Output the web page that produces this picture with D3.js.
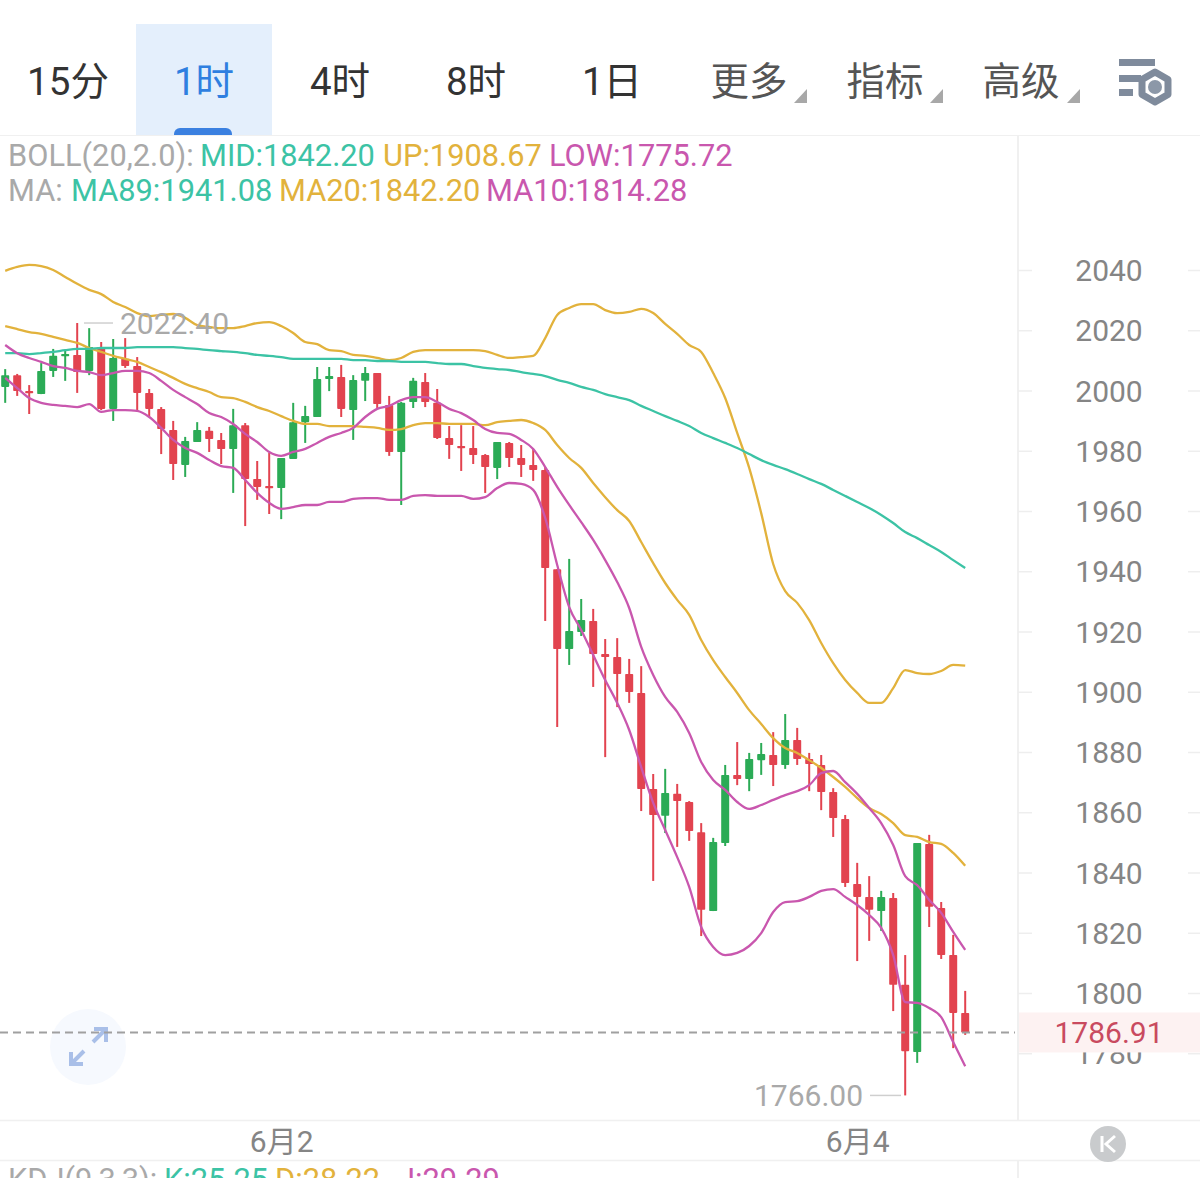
<!DOCTYPE html>
<html lang="zh">
<head>
<meta charset="utf-8">
<title>K线图</title>
<script src="https://cdn.jsdelivr.net/npm/d3@7/dist/d3.min.js"></script>
<style>
html,body{margin:0;padding:0;background:#fff;overflow:hidden;width:1200px;height:1178px}
svg{display:block}
text{font-family:Roboto,"Noto Sans CJK SC","Noto Sans",sans-serif}
</style>
</head>
<body>
<div id="chart"></div>
<script>
// Hourly candles, one entry per bar
const opens = [2001.2,2005.1,1999.8,1998.8,2006.5,2011.5,2011.8,2006.5,2014.4,1993.9,2010.5,2008.1,1999.2,1993.9,1986.9,1975.3,1982.9,1986.6,1983.6,1980.6,1988.5,1970.6,1968.3,1967.6,1977.3,1989.5,1991.2,2003.8,2004.5,1993.5,2003.2,2005.8,1995.2,1979.6,1996.2,2002.8,1995.9,1984.2,1981.6,1980.9,1978.6,1974.3,1982.6,1977.6,1975.3,1973.6,1940.7,1914.2,1919.8,1923.5,1912.5,1911.5,1905.9,1899.6,1867.7,1858.8,1866.1,1863.4,1853.4,1827.2,1849.8,1872.4,1871.0,1877.3,1879.0,1875.7,1884.0,1877.7,1875.7,1866.7,1857.8,1836.2,1831.9,1827.2,1831.5,1802.7,1780.4,1849.5,1828.2,1812.6,1793.4];
const closes = [2005.1,1999.8,1999.2,2006.5,2011.5,2012.1,2006.1,2014.4,1993.9,2010.8,2008.1,1999.2,1993.9,1987.2,1975.6,1983.2,1986.9,1983.9,1980.6,1988.5,1970.6,1968.0,1967.6,1977.6,1989.5,1991.5,2003.8,2004.8,1993.9,2003.5,2005.8,1995.5,1979.6,1995.9,2003.2,1996.2,1984.2,1981.9,1981.2,1978.6,1974.6,1982.9,1977.6,1975.3,1973.6,1941.1,1914.2,1920.2,1923.8,1912.5,1911.5,1905.9,1899.9,1867.7,1859.1,1866.4,1863.7,1853.8,1827.6,1850.1,1872.4,1871.0,1877.7,1879.3,1875.7,1884.0,1877.7,1876.0,1866.7,1858.1,1836.5,1831.9,1827.6,1831.9,1802.7,1780.7,1849.8,1828.6,1812.6,1793.4,1786.91];
const highs = [2007.1,2005.5,2001.8,2009.1,2013.8,2013.4,2022.4,2020.7,2016.1,2017.1,2017.4,2011.1,2000.5,1994.5,1989.9,1984.6,1989.5,1987.9,1985.9,1993.9,1989.2,1976.6,1979.3,1977.6,1995.9,1994.9,2007.8,2007.8,2008.5,2005.1,2007.8,2005.8,1998.2,1996.2,2004.2,2005.8,2000.5,1988.2,1988.5,1988.2,1978.9,1982.9,1982.9,1981.9,1980.6,1974.6,1940.7,1944.1,1930.8,1927.5,1917.5,1917.8,1910.9,1908.5,1872.7,1874.4,1869.4,1863.7,1856.4,1851.5,1875.7,1883.3,1879.7,1883.0,1886.6,1892.6,1888.0,1879.7,1879.0,1868.0,1859.1,1843.2,1838.8,1833.9,1833.2,1812.6,1849.8,1852.5,1830.2,1819.3,1800.7];
const lows = [1995.9,1998.2,1992.2,1998.8,2004.5,2003.2,1999.2,2005.1,1993.5,1989.9,2007.5,1992.9,1991.2,1978.9,1970.3,1971.3,1982.9,1979.6,1975.6,1966.0,1955.0,1963.7,1959.0,1957.3,1977.3,1982.6,1991.2,1999.8,1991.2,1983.6,1996.5,1994.2,1978.3,1962.0,1994.2,1994.5,1983.9,1977.3,1973.3,1975.6,1966.0,1970.6,1974.6,1971.3,1970.0,1923.5,1888.3,1908.9,1918.5,1901.6,1878.3,1894.9,1896.3,1860.4,1837.2,1853.1,1848.5,1850.5,1818.9,1827.2,1848.8,1869.0,1867.0,1872.4,1868.7,1874.4,1875.7,1867.0,1860.7,1851.8,1835.2,1810.6,1817.3,1820.6,1794.0,1766.0,1776.8,1821.9,1811.3,1781.7,1786.1];

// Indicator series
const bollUp = [2039.7,2041.0,2041.7,2041.3,2040.0,2037.7,2035.4,2033.4,2032.0,2029.4,2027.7,2025.7,2024.7,2025.1,2025.4,2024.1,2021.7,2021.1,2020.7,2020.7,2021.4,2022.4,2022.7,2021.4,2019.1,2016.1,2015.4,2013.4,2013.1,2011.8,2011.5,2010.8,2010.1,2010.8,2012.8,2013.4,2013.4,2013.4,2013.4,2013.4,2013.1,2011.8,2010.8,2011.1,2011.5,2017.4,2025.1,2027.4,2028.7,2028.7,2026.7,2025.7,2026.1,2027.1,2025.7,2022.1,2018.8,2015.1,2012.8,2005.8,1997.5,1985.9,1974.3,1959.3,1942.4,1933.4,1929.5,1923.8,1916.2,1909.5,1903.9,1899.6,1896.3,1896.3,1901.2,1907.2,1906.2,1905.9,1906.9,1908.9,1908.67];
const ma89 = [2012.4,2012.4,2012.1,2012.4,2012.8,2013.4,2013.8,2013.8,2014.1,2014.1,2014.1,2014.4,2014.4,2014.4,2014.4,2014.1,2013.8,2013.4,2013.1,2012.8,2012.4,2011.8,2011.5,2011.1,2010.5,2010.5,2010.5,2010.5,2010.5,2010.1,2010.1,2009.8,2009.8,2009.5,2009.5,2009.5,2009.1,2008.8,2008.8,2008.1,2007.5,2007.1,2006.8,2006.1,2005.5,2004.8,2003.5,2002.5,2001.2,2000.2,1998.8,1997.8,1996.8,1994.9,1993.2,1991.5,1989.9,1988.2,1985.9,1984.2,1982.6,1980.9,1978.9,1976.9,1975.3,1973.9,1972.3,1970.6,1969.0,1967.0,1965.0,1963.0,1961.0,1958.7,1956.0,1953.0,1951.0,1948.7,1946.4,1943.7,1941.08];
const ma20 = [2021.4,2020.4,2019.4,2018.8,2017.8,2016.8,2015.8,2014.1,2012.8,2011.5,2010.5,2009.5,2007.8,2006.1,2004.2,2002.2,2000.8,1999.5,1997.8,1997.5,1996.2,1994.5,1993.2,1991.5,1989.9,1988.9,1988.9,1988.2,1988.2,1988.2,1987.9,1987.6,1986.9,1987.2,1988.5,1989.2,1989.2,1988.9,1988.9,1988.9,1988.5,1989.5,1989.9,1990.2,1989.2,1986.9,1981.9,1977.6,1974.3,1969.3,1964.6,1960.3,1956.7,1949.7,1942.7,1936.1,1930.5,1925.5,1917.2,1910.5,1904.9,1899.6,1893.9,1889.3,1884.6,1881.3,1879.7,1877.3,1874.7,1871.7,1868.4,1864.7,1861.4,1859.4,1856.4,1852.4,1851.8,1850.1,1849.5,1846.5,1842.2];
const ma10 = [2015.1,2012.4,2010.8,2009.5,2008.1,2007.5,2006.5,2006.1,2005.1,2005.8,2006.5,2006.5,2005.8,2003.2,2000.2,1997.8,1995.5,1992.5,1991.2,1988.9,1985.6,1982.9,1979.6,1978.3,1979.6,1980.6,1982.6,1984.6,1985.9,1987.6,1991.2,1993.9,1994.9,1996.8,1997.8,1997.8,1996.2,1993.9,1992.5,1990.2,1987.2,1985.9,1985.6,1983.6,1980.6,1974.6,1968.0,1962.0,1956.3,1950.4,1943.7,1936.4,1927.8,1914.9,1905.6,1898.3,1893.3,1886.3,1876.7,1870.7,1867.4,1863.4,1861.1,1862.4,1864.1,1865.7,1867.0,1869.0,1873.0,1873.7,1870.0,1866.1,1861.4,1856.4,1849.1,1838.8,1835.8,1830.9,1826.6,1820.3,1814.28];
const bollLow = [2004.2,2000.8,1997.5,1995.9,1995.2,1994.9,1994.5,1995.5,1992.9,1993.5,1993.5,1993.2,1991.2,1987.6,1983.6,1980.9,1979.3,1976.9,1974.9,1974.3,1970.3,1966.0,1962.7,1960.7,1961.3,1962.0,1962.0,1963.0,1963.0,1964.0,1964.3,1964.3,1963.7,1963.7,1965.0,1965.3,1965.0,1965.0,1965.0,1964.0,1964.6,1967.6,1969.3,1969.0,1967.0,1957.7,1942.1,1928.1,1920.5,1912.2,1903.9,1896.3,1887.3,1875.0,1863.1,1854.1,1845.1,1835.2,1821.9,1815.3,1812.6,1813.3,1815.6,1819.9,1826.9,1830.2,1830.5,1831.9,1833.9,1834.5,1831.9,1829.2,1825.9,1821.6,1812.6,1797.0,1796.7,1795.0,1792.0,1783.7,1775.72];

// Axis labels and header text
const priceTicks = [2040,2020,2000,1980,1960,1940,1920,1900,1880,1860,1840,1820,1800,1780];
const dateTickBars = [23, 71];
const dateTickNames = ["6月2", "6月4"];
const lastPrice = 1786.91;
const peakPrice = 2022.40;
const troughPrice = 1766.00;
const tabNames = ["15分","1时","4时","8时","1日"];
const menuNames = ["更多","指标","高级"];

const width = 1200, height = 1178;
const svg = d3.select("#chart").append("svg").attr("width", width).attr("height", height);

const x = d3.scaleLinear().domain([0, opens.length - 1]).range([5.2, 965.2]);
const y = d3.scaleLinear().domain([2040, 1780]).range([270, 1053.25]);

const RED = "#e2434f", GREEN = "#2bab56", GOLD = "#e2b23c", TEAL = "#3cc3a5", PINK = "#c957ae", GRAY = "#a9a9a9";
const RULE = "#f0f0f0";

// Period tabs
svg.append("rect").attr("x",136).attr("y",24).attr("width",136).attr("height",111).attr("fill","#e4effc");
svg.append("rect").attr("x",174).attr("y",128).attr("width",58).attr("height",14).attr("rx",6).attr("fill","#3b80e0");
svg.append("rect").attr("x",0).attr("y",136).attr("width",width).attr("height",10).attr("fill","#fff");
svg.selectAll("text.tab").data(tabNames).join("text").attr("class","tab")
  .attr("x",(d,i)=>[68,204,340,476,612][i]).attr("y",94.5)
  .attr("text-anchor","middle").attr("font-size",38.5)
  .attr("fill",(d,i)=>i===1?"#2f7fe0":"#333").text(d=>d);
svg.selectAll("text.menu").data(menuNames).join("text").attr("class","menu")
  .attr("x",(d,i)=>[749,885,1021][i]).attr("y",94.5)
  .attr("text-anchor","middle").attr("font-size",38.5).attr("fill","#555").text(d=>d);
[807,943,1080].forEach(r=>{
  svg.append("path").attr("d",`M${r} 89V103H${r-13}Z`).attr("fill","#a8a8a8");
});

// Settings glyph
const gear = svg.append("g").attr("fill","#7f8b9c");
gear.append("rect").attr("x",1119).attr("y",59).attr("width",36).attr("height",7);
gear.append("rect").attr("x",1119).attr("y",75).attr("width",22).attr("height",7);
gear.append("rect").attr("x",1119).attr("y",89).attr("width",14).attr("height",7);
const hexPoints = d3.range(6).map(k=>{
  const a = Math.PI/3*k - Math.PI/2;
  return [1155+15*Math.cos(a), 87+15*Math.sin(a)];
});
gear.append("path").attr("d",d3.line()(hexPoints)+"Z").attr("fill","none").attr("stroke","#7f8b9c").attr("stroke-width",7).attr("stroke-linejoin","round");
gear.append("circle").attr("cx",1155).attr("cy",87).attr("r",7).attr("fill","#8c98a8");

// Panel rules
svg.append("line").attr("x1",0).attr("x2",width).attr("y1",135.5).attr("y2",135.5).attr("stroke",RULE);
svg.append("line").attr("x1",1018).attr("x2",1018).attr("y1",136).attr("y2",1120).attr("stroke",RULE).attr("stroke-width",2);
svg.append("line").attr("x1",1018).attr("x2",1018).attr("y1",1160).attr("y2",height).attr("stroke",RULE).attr("stroke-width",2);
svg.append("line").attr("x1",0).attr("x2",width).attr("y1",1120.5).attr("y2",1120.5).attr("stroke",RULE).attr("stroke-width",1.5);
svg.append("line").attr("x1",0).attr("x2",width).attr("y1",1160.5).attr("y2",1160.5).attr("stroke",RULE).attr("stroke-width",1.5);

// Price axis, with the grid stubs either side of the labels
const priceAxis = svg.append("g").attr("transform","translate(1109,0)")
  .call(d3.axisRight(y).tickValues(priceTicks).tickSize(0).tickPadding(0).tickFormat(d3.format("d")));
priceAxis.select(".domain").remove();
priceAxis.selectAll("text").attr("text-anchor","middle").attr("font-size",30).attr("font-family","Roboto").attr("fill","#858585").attr("dy","0.35em");
priceAxis.selectAll(".tick").each(function(d){
  const t = d3.select(this);
  t.append("line").attr("x1",-91).attr("x2",-77).attr("stroke","#eee").attr("stroke-width",1.5);
  t.append("line").attr("x1",79).attr("x2",91).attr("stroke","#eee").attr("stroke-width",1.5);
});

// Date axis
const dateAxis = svg.append("g").attr("transform","translate(0,1141)")
  .call(d3.axisBottom(x).tickValues(dateTickBars).tickSize(0).tickPadding(0).tickFormat((d,i)=>dateTickNames[i]));
dateAxis.select(".domain").remove();
dateAxis.selectAll("text").attr("font-size",30).attr("font-family","Roboto,'Noto Sans CJK SC'").attr("fill","#858585").attr("dy","0.35em").attr("y",0);

// Current price band, covers the tick label underneath
svg.append("rect").attr("x",1019).attr("y",y(lastPrice)-20).attr("width",181).attr("height",40).attr("fill","#fdf2f2");

// Candles
const bars = svg.append("g").selectAll("g").data(opens.map((o,i)=>i)).join("g");
const barColor = i => opens[i] > closes[i] ? RED : GREEN;
bars.append("line").attr("x1",i=>x(i)).attr("x2",i=>x(i))
  .attr("y1",i=>y(highs[i])).attr("y2",i=>y(lows[i]))
  .attr("stroke",barColor).attr("stroke-width",2);
bars.append("rect").attr("x",i=>x(i)-4).attr("width",8).attr("rx",0.8)
  .attr("y",i=>y(Math.max(opens[i],closes[i])))
  .attr("height",i=>Math.max(2.2,Math.abs(y(opens[i])-y(closes[i]))))
  .attr("fill",barColor);

// Indicator lines
const path = d3.line().x((d,i)=>x(i)).y(d=>y(d)).curve(d3.curveMonotoneX);
[[bollUp,GOLD],[ma20,GOLD],[ma89,TEAL],[ma10,PINK],[bollLow,PINK]].forEach(([series,color])=>{
  svg.append("path").attr("d",path(series)).attr("fill","none").attr("stroke",color)
    .attr("stroke-width",2.3).attr("stroke-linejoin","round");
});

// Extreme price markers
svg.append("line").attr("x1",84).attr("x2",113).attr("y1",y(peakPrice)).attr("y2",y(peakPrice)).attr("stroke","#cfcfcf").attr("stroke-width",1.5);
svg.append("text").attr("x",120).attr("y",y(peakPrice)+11).attr("font-size",30).attr("fill",GRAY).text(peakPrice.toFixed(2));
svg.append("line").attr("x1",870).attr("x2",901).attr("y1",y(troughPrice)).attr("y2",y(troughPrice)).attr("stroke","#cfcfcf").attr("stroke-width",1.5);
svg.append("text").attr("x",754).attr("y",y(troughPrice)+11).attr("font-size",30).attr("fill",GRAY).text(troughPrice.toFixed(2));

// Expand control, sitting under the price line
svg.append("circle").attr("cx",88).attr("cy",1047).attr("r",38).attr("fill","#f6f9fe");
svg.append("path").attr("d","M93 1042L106 1029M94 1029H106V1042M84 1051L71 1064M71 1052V1064H83")
  .attr("fill","none").attr("stroke","#a9bfe8").attr("stroke-width",4);

// Last price line and label
svg.append("line").attr("x1",0).attr("x2",1015).attr("y1",y(lastPrice)).attr("y2",y(lastPrice))
  .attr("stroke","#a0a0a0").attr("stroke-width",2).attr("stroke-dasharray","8 5");
svg.append("text").attr("x",1109).attr("y",y(lastPrice)+11).attr("text-anchor","middle")
  .attr("font-size",30).attr("fill","#c94a5f").text(lastPrice.toFixed(2));

// Jump-to-latest button
svg.append("circle").attr("cx",1108).attr("cy",1144).attr("r",18).attr("fill","#c9cbcd");
svg.append("path").attr("d","M1102 1136V1152M1115 1136L1106 1144L1115 1152").attr("fill","none").attr("stroke","#fff").attr("stroke-width",3);

// Indicator read-outs
function readout(rowY, parts){
  parts.forEach(([tx,label,color])=>{
    svg.append("text").attr("x",tx).attr("y",rowY).attr("font-size",30.8).attr("fill",color).text(label);
  });
}
readout(166,[[8,"BOLL(20,2.0):",GRAY],[200,"MID:1842.20",TEAL],[383,"UP:1908.67",GOLD],[549,"LOW:1775.72",PINK]]);
readout(201,[[8,"MA:",GRAY],[71,"MA89:1941.08",TEAL],[279,"MA20:1842.20",GOLD],[486,"MA10:1814.28",PINK]]);
readout(1190,[[8,"KDJ(9,3,3):",GRAY],[164,"K:25.25",TEAL],[275,"D:28.22",GOLD],[398,"J:29.29",PINK]]);
</script>
</body>
</html>
